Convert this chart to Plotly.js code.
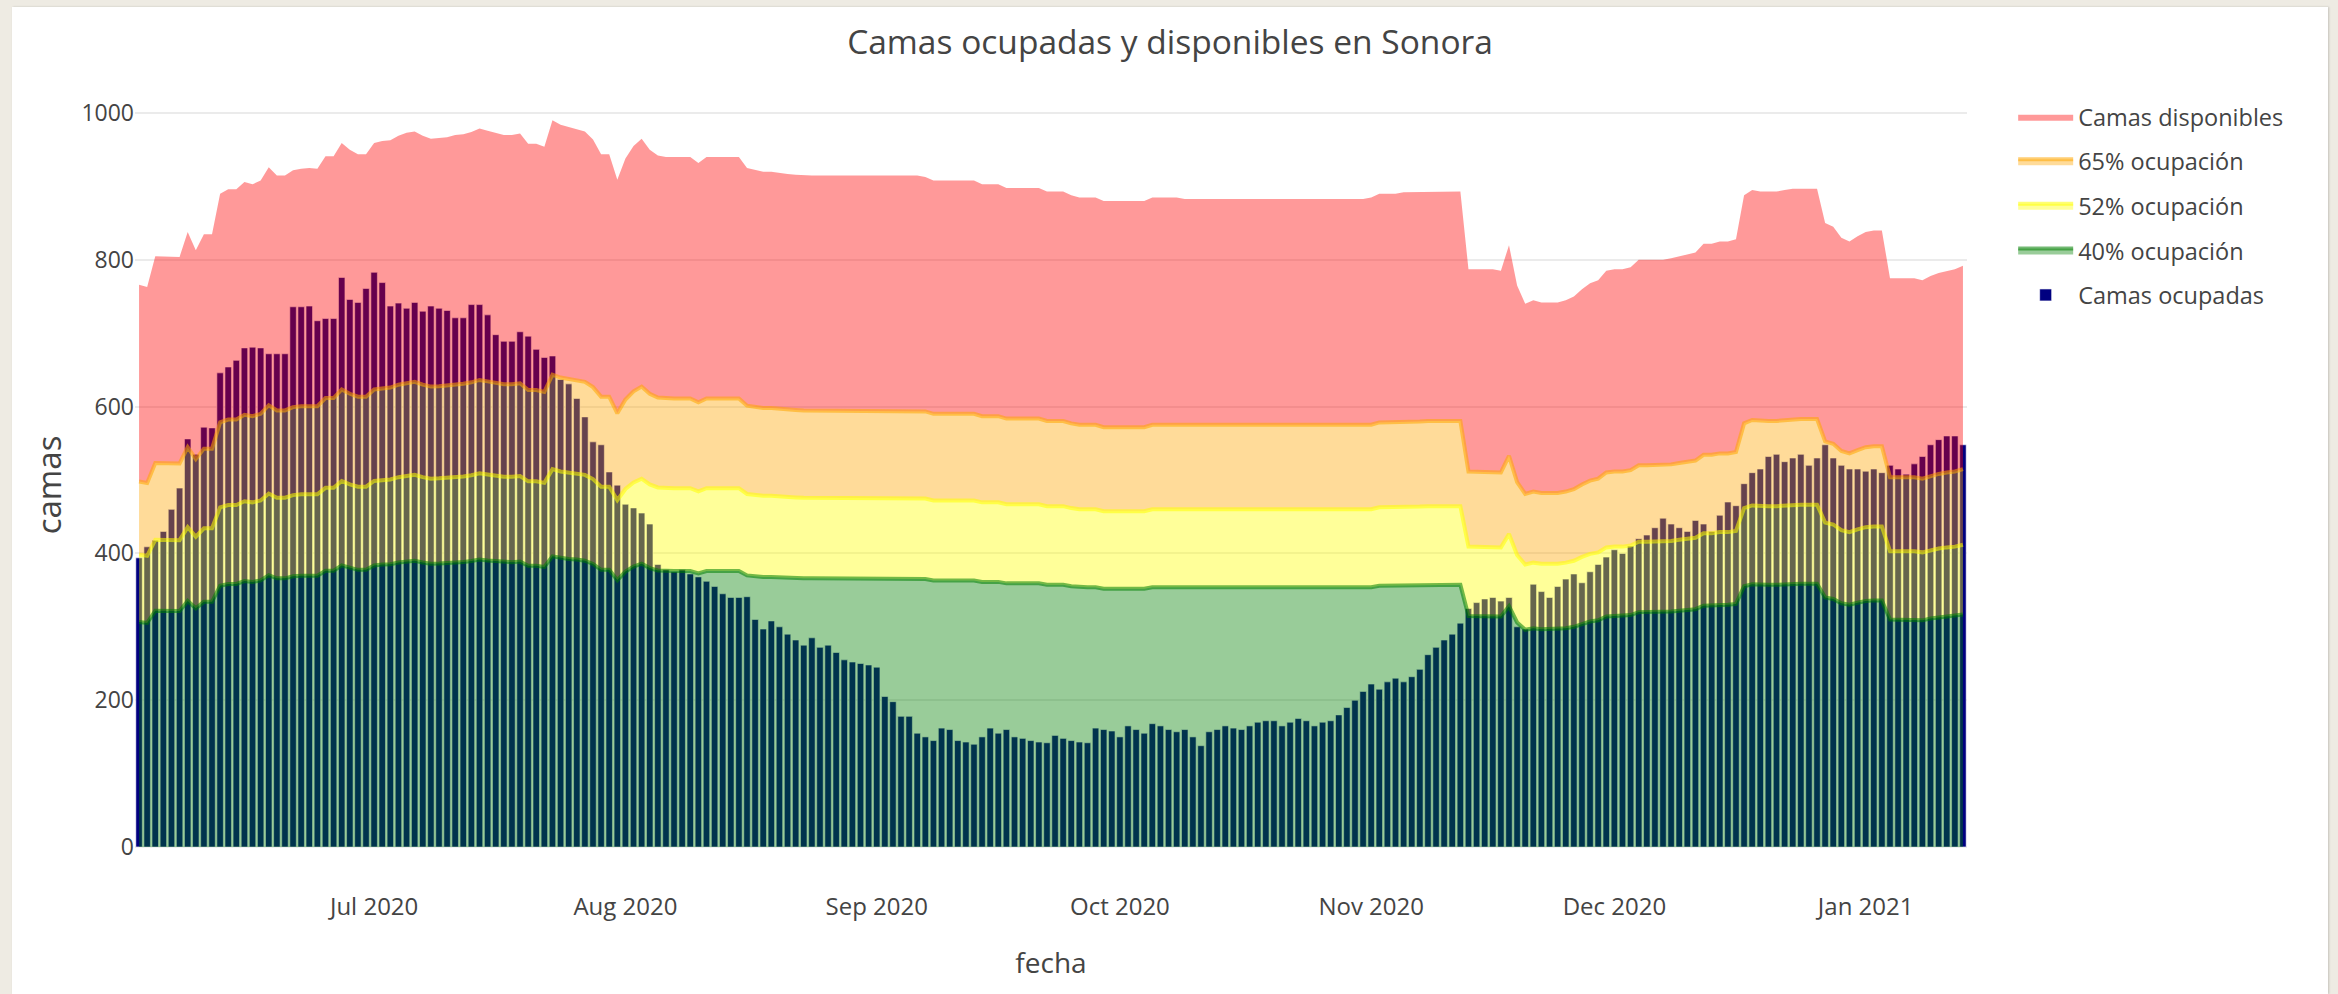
<!DOCTYPE html>
<html>
<head>
<meta charset="utf-8">
<script src="https://cdn.plot.ly/plotly-3.0.1.min.js"></script>
<style>
  html, body { margin: 0; padding: 0; background: #eeebe3; width: 2338px; height: 994px; overflow: hidden; }
  #chart { position: absolute; left: 12px; top: 7px; width: 2316px; height: 987px; background: #ffffff; box-shadow: 1px 0 2px rgba(0,0,0,0.18); }
</style>
</head>
<body>
<div id="chart"></div>
<script>
// Primer día de la serie (datos diarios)
const fechaInicio = '2020-06-02';

// Camas totales (tope del área roja), por mes
const totalJun = [766,763,805,805,804,804,838,813,835,835,890,896,896,906,903,908,926,915,915,922,924,925,924,941,941,959,950,944,944];
const totalJul = [959,962,963,969,973,975,969,965,966,967,970,971,974,979,976,973,970,970,972,958,958,954,990,984,981,979,975,964,944,944,909];
const totalAgo = [938,955,965,950,942,940,940,940,940,932,940,940,940,940,940,925,922,920,920,918,917,916,915,915,915,915,915,915,915,915,915];
const totalSep = [915,915,915,915,915,915,913,908,908,908,908,908,908,903,903,903,898,898,898,898,898,893,893,893,888,885,885,885,880,880];
const totalOct = [880,880,880,880,885,885,885,885,883,883,883,883,883,883,883,883,883,883,883,883,883,883,883,883,883,883,883,883,883,883,883];
const totalNov = [885,890,890,890,892,892,892,893,893,893,893,893,787,787,787,787,785,820,765,740,745,742,742,742,745,750,760,768,772,785];
const totalDic = [787,787,790,800,800,800,800,802,805,808,810,822,822,825,825,828,888,895,893,893,893,895,897,897,897,897,850,845,830,825,832];
const totalEne = [838,840,840,775,775,775,775,772,778,782,785,787,792];

// Camas ocupadas (barras), por mes
const ocupJun = [394,409,418,430,460,489,556,535,572,571,646,654,663,680,681,680,672,672,672,736,736,737,717,720,720,776,746,742,761];
const ocupJul = [783,769,737,741,734,742,730,737,734,731,721,721,739,739,725,698,689,689,702,696,678,667,669,637,631,611,586,552,548,511,493];
const ocupAgo = [467,462,455,440,385,378,375,378,372,368,362,355,345,340,340,341,310,297,308,300,290,282,275,285,272,275,265,255,252,250,248];
const ocupSep = [245,205,198,178,178,155,150,145,162,160,145,143,140,150,162,155,160,150,148,145,143,142,152,148,145,143,142,162,160,158];
const ocupOct = [150,165,160,155,168,165,160,157,160,150,138,157,160,165,162,160,165,170,172,172,165,170,175,172,165,170,172,180,190,200,212];
const ocupNov = [222,215,225,230,225,232,242,262,272,282,290,305,325,333,338,340,335,340,300,297,358,348,340,355,365,372,360,375,385,395];
const ocupDic = [405,400,410,420,425,435,448,440,435,430,445,440,430,452,470,465,495,510,515,532,535,525,530,535,520,530,548,530,520,515,515];
const ocupEne = [512,515,510,520,515,508,522,532,548,555,560,560,548];

// Niveles de ocupación (según la leyenda)
const niveles = [0.40, 0.52, 0.65];
const nombresNiveles = ['40% ocupación', '52% ocupación', '65% ocupación'];
const coloresNiveles = ['0,128,0', '255,255,0', '255,165,0'];

const camasTotales = [].concat(totalJun, totalJul, totalAgo, totalSep, totalOct, totalNov, totalDic, totalEne);
const camasOcupadas = [].concat(ocupJun, ocupJul, ocupAgo, ocupSep, ocupOct, ocupNov, ocupDic, ocupEne);

// Fechas diarias consecutivas
const fechas = [];
{
  const d0 = new Date(fechaInicio + 'T00:00:00Z');
  for (let i = 0; i < camasTotales.length; i++) {
    const d = new Date(d0.getTime() + i * 86400000);
    fechas.push(d.toISOString().slice(0, 10));
  }
}

const traces = [];
traces.push({
  type: 'bar', name: 'Camas ocupadas', x: fechas, y: camasOcupadas,
  marker: { color: 'navy', line: { color: 'white', width: 0.6 } },
  legendgroup: 'g0', legendrank: 5
});
niveles.forEach((p, k) => {
  traces.push({
    type: 'scatter', mode: 'lines', name: nombresNiveles[k], x: fechas,
    y: camasTotales.map(v => v * p),
    fill: k === 0 ? 'tozeroy' : 'tonexty',
    fillcolor: 'rgba(' + coloresNiveles[k] + ',0.4)',
    line: { color: 'rgba(' + coloresNiveles[k] + ',0.55)', width: 4 },
    legendgroup: 'g' + (k + 1), legendrank: 4 - k
  });
});
traces.push({
  type: 'scatter', mode: 'lines', name: 'Camas disponibles', x: fechas, y: camasTotales,
  fill: 'tonexty', fillcolor: 'rgba(255,0,0,0.4)',
  line: { color: 'rgba(255,0,0,0.4)', width: 0 },
  legendgroup: 'g4', legendrank: 1
});

const fuente = '"Open Sans", verdana, arial, sans-serif';
const layout = {
  width: 2316, height: 987,
  paper_bgcolor: '#ffffff', plot_bgcolor: '#ffffff',
  font: { family: fuente, color: '#444444', size: 24 },
  margin: { l: 123, r: 361, t: 73, b: 104, pad: 0 },
  title: { text: 'Camas ocupadas y disponibles en Sonora', x: 0.5, xanchor: 'center', yref: 'container', y: 0.964, yanchor: 'middle', font: { size: 33.5, color: '#444444' } },
  showlegend: true,
  legend: { x: 1.0252, y: 0.9815, xanchor: 'left', yanchor: 'top', font: { size: 23.5 }, itemwidth: 55, traceorder: 'grouped', tracegroupgap: 11, bgcolor: 'rgba(0,0,0,0)' },
  bargap: 0.2,
  xaxis: {
    type: 'date', range: ['2020-06-01 12:00', '2021-01-13 12:00'],
    tick0: '2020-07-01', dtick: 'M1', tickformat: '%b %Y',
    showgrid: false, zeroline: false, showline: false, ticks: '',
    tickfont: { size: 24 },
    title: { text: 'fecha', font: { size: 28 }, standoff: 32 }
  },
  yaxis: {
    range: [-58.6, 1045], dtick: 200, tick0: 0,
    showgrid: true, gridcolor: '#ebebeb', gridwidth: 2,
    zeroline: false, showline: false, ticks: '',
    tickfont: { size: 23 },
    title: { text: 'camas', font: { size: 33 }, standoff: 9 }
  }
};

Plotly.newPlot('chart', traces, layout, { displayModeBar: false, responsive: false });
</script>
</body>
</html>
